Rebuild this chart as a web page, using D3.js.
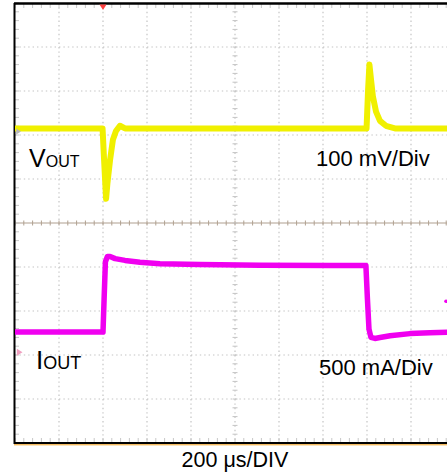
<!DOCTYPE html>
<html><head><meta charset="utf-8">
<script src="https://cdn.jsdelivr.net/npm/d3@7"></script>
<style>
body{margin:0;background:#fff;}
svg{display:block;font-family:"Liberation Sans",Arial,Helvetica,sans-serif;}
</style>
</head><body>
<svg id="chart" width="447" height="475"></svg>
<script>
// ---- data (time in µs, VOUT deviation in mV, IOUT step in mA) ----
const voutTime = [0, 398, 405, 414, 420, 432, 445, 459, 477, 500, 1598, 1605, 1611, 1618, 1627, 1641, 1659, 1686, 1727, 2000];
const voutMv   = [0,   0, -72, -160, -125, -72, -26, -6, 6, 0,   0,   88,  145,  112,  72,  38,  17,   6,    0,    0];
const ioutTime = [0, 400, 405, 411, 420, 432, 455, 500, 568, 659, 841, 1114, 1432, 1595, 1602, 1609, 1618, 1636, 1659, 1705, 1795, 1886, 2000];
const ioutMa   = [0,   0, 375, 800, 860, 860, 835, 815, 795, 778, 767,  761,  756,  756,  375,   34,  -60,  -72,  -62,  -42,  -17,   -6,    0];
const timePerDiv = 200;      // µs/div
const vPerDiv = 100;         // mV/div
const iPerDiv = 500;         // mA/div
const labels = {vout: ["V", "OUT"], iout: ["I", "OUT"], vScale: "100 mV/Div", iScale: "500 mA/Div", tScale: "200 μs/DIV"};

// channel display offsets (divisions from centre)
const vOffset = 2.15, iOffset = -2.48;

const svg = d3.select("#chart");
const x = d3.scaleLinear().domain([0, 10 * timePerDiv]).range([15, 455]);
const y = d3.scaleLinear().domain([-5, 5]).range([443, 3]);

const g = svg.append("g");
const W = 447;

// dotted graticule
const xDivs = d3.range(1, 10).map(d => d * timePerDiv);
const yDivs = d3.range(-4, 5);
g.selectAll(".vg").data(xDivs).join("line")
  .attr("x1", d => x(d)).attr("x2", d => x(d)).attr("y1", y(5)).attr("y2", y(-5))
  .attr("stroke", "#c4c4c4").attr("stroke-width", 1.2).attr("stroke-dasharray", "1.4,3");
g.selectAll(".hg").data(yDivs.filter(d => d !== 0)).join("line")
  .attr("x1", x(0)).attr("x2", W).attr("y1", d => y(d)).attr("y2", d => y(d))
  .attr("stroke", "#c4c4c4").attr("stroke-width", 1.2).attr("stroke-dasharray", "1.4,3");

// minor ticks
const minorX = d3.range(0, 51).map(d => d * timePerDiv / 5);
const minorY = d3.range(-25, 26).map(d => d / 5);
// centre horizontal line (solid, tan)
g.append("line").attr("x1", x(0)).attr("x2", W).attr("y1", y(0)).attr("y2", y(0))
  .attr("stroke", "#b0a090").attr("stroke-width", 1.2);
g.selectAll(".ct").data(minorX).join("line")
  .attr("x1", d => x(d)).attr("x2", d => x(d)).attr("y1", y(0) - 2.5).attr("y2", y(0) + 2.5)
  .attr("stroke", "#b0a090").attr("stroke-width", 1);
// centre vertical ticks
g.selectAll(".cvt").data(minorY).join("line")
  .attr("x1", x(1000) - 2.5).attr("x2", x(1000) + 2.5).attr("y1", d => y(d)).attr("y2", d => y(d))
  .attr("stroke", "#c4c4c4").attr("stroke-width", 1);
// border ticks
g.selectAll(".tt").data(minorX).join("line")
  .attr("x1", d => x(d)).attr("x2", d => x(d)).attr("y1", y(5)).attr("y2", y(5) + 5)
  .attr("stroke", "#c8c8c8").attr("stroke-width", 1);
g.selectAll(".bt").data(minorX).join("line")
  .attr("x1", d => x(d)).attr("x2", d => x(d)).attr("y1", y(-5)).attr("y2", y(-5) - 5)
  .attr("stroke", "#c8c8c8").attr("stroke-width", 1);
g.selectAll(".lt").data(minorY).join("line")
  .attr("x1", x(0)).attr("x2", x(0) + 4).attr("y1", d => y(d)).attr("y2", d => y(d))
  .attr("stroke", "#c8c8c8").attr("stroke-width", 1);

// borders
g.append("line").attr("x1", x(0) - 1).attr("x2", W).attr("y1", y(5) + 0.5).attr("y2", y(5) + 0.5)
  .attr("stroke", "#000").attr("stroke-width", 2.5);
g.append("line").attr("x1", x(0) - 1).attr("x2", W).attr("y1", y(-5)).attr("y2", y(-5))
  .attr("stroke", "#000").attr("stroke-width", 2);
g.append("line").attr("x1", x(0) - 1).attr("x2", W).attr("y1", y(-5) + 1.8).attr("y2", y(-5) + 1.8)
  .attr("stroke", "#f0a020").attr("stroke-width", 1);
g.append("line").attr("x1", x(0) - 0.5).attr("x2", x(0) - 0.5).attr("y1", y(5)).attr("y2", y(-5) + 1)
  .attr("stroke", "#000").attr("stroke-width", 2);

// traces
const vLine = d3.line().x(d => x(d[0])).y(d => y(vOffset + d[1] / vPerDiv));
const iLine = d3.line().x(d => x(d[0])).y(d => y(iOffset + d[1] / iPerDiv));
g.append("path").attr("d", vLine(d3.zip(voutTime, voutMv)))
  .attr("fill", "none").attr("stroke", "#f0f000").attr("stroke-width", 6).attr("stroke-linejoin", "round");
g.append("path").attr("d", iLine(d3.zip(ioutTime, ioutMa)))
  .attr("fill", "none").attr("stroke", "#f000f0").attr("stroke-width", 5.5).attr("stroke-linejoin", "round");

// markers
const tri = (cx, cy, dir, s, col) => {
  const pts = dir === "down"
    ? [[cx - s, cy - s], [cx + s, cy - s], [cx, cy + s * 0.6]]
    : [[cx - s * 0.6, cy - s], [cx - s * 0.6, cy + s], [cx + s, cy]];
  g.append("path").attr("d", d3.line()(pts) + "Z").attr("fill", col);
};
tri(x(400), y(5) + 5, "down", 3.5, "#ff4040");
tri(x(0) + 3, y(vOffset) + 3, "right", 3, "#b8b8b8");
tri(x(0) + 4, y(iOffset - 0.46), "right", 3.5, "#f0a0c0");
g.append("circle").attr("cx", 446).attr("cy", y(iOffset + 0.7)).attr("r", 1.8).attr("fill", "#f000f0");

// labels
const vt = g.append("text").attr("x", 29).attr("y", 167).attr("fill", "#000");
vt.append("tspan").attr("font-size", 25).text(labels.vout[0]);
vt.append("tspan").attr("font-size", 16).text(labels.vout[1]);
const it = g.append("text").attr("x", 36).attr("y", 369).attr("fill", "#000");
it.append("tspan").attr("font-size", 26).text(labels.iout[0]);
it.append("tspan").attr("font-size", 18).text(labels.iout[1]);
g.append("text").attr("x", 316).attr("y", 166).attr("font-size", 22).attr("fill", "#000").text(labels.vScale);
g.append("text").attr("x", 319).attr("y", 375).attr("font-size", 22).attr("fill", "#000").text(labels.iScale);
g.append("text").attr("x", x(1000)).attr("y", 467).attr("text-anchor", "middle").attr("font-size", 21.5).attr("fill", "#000").text(labels.tScale);
</script>
</body></html>
